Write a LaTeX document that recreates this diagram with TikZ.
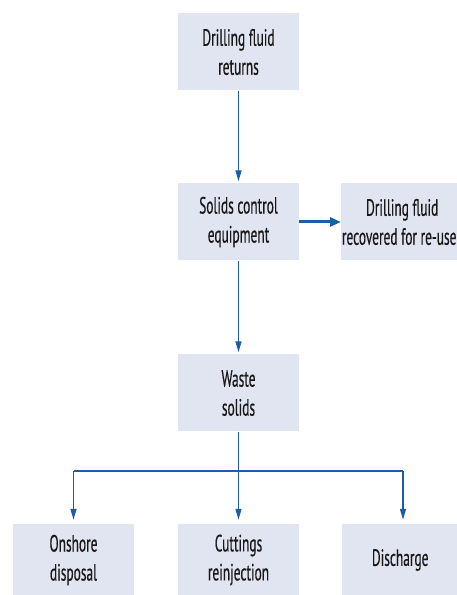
\documentclass[tikz,border=0pt]{standalone}
\usepackage{fontspec}
\setmainfont{PT Sans}[FakeStretch=0.57, FakeBold=0.4]
\usetikzlibrary{arrows.meta}
\definecolor{boxfill}{HTML}{E1E4F1}
\definecolor{lineblue}{HTML}{1D5CA6}
\definecolor{txt}{HTML}{1A1718}
\tikzset{
  stepbox/.style={fill=boxfill, draw=none, minimum width=121pt, minimum height=77pt,
    inner sep=0pt, align=center, text=txt, font=\fontsize{23.5pt}{29pt}\selectfont},
  flow/.style={draw=lineblue, line width=1.4pt, -{Triangle[width=6pt,length=11pt]}},
}
\begin{document}
\begin{tikzpicture}[x=1pt,y=1pt]
\useasboundingbox (0,0) rectangle (457,595);
\clip (0,0) rectangle (457,595);
\node[stepbox] (ret) at (238.5,543) {Drilling fluid\\returns};
\node[stepbox] (sce) at (238.5,373) {Solids control\\equipment};
\node[stepbox, minimum width=116pt, anchor=west] (rec) at (341,373) {\hspace*{6pt}Drilling fluid\\recovered for re-use};
\node[stepbox] (ws) at (238.5,202) {Waste\\solids};
\node[stepbox, minimum height=72pt] (on) at (73.5,35) {Onshore\\disposal};
\node[stepbox, minimum height=72pt] (cr) at (238.5,35) {Cuttings\\reinjection};
\node[stepbox, minimum height=72pt, minimum width=116pt, anchor=west] (dis) at (342,35) {Discharge};
\coordinate (bc) at (238.5,124);
\coordinate (bl) at (73.5,124);
\coordinate (br) at (403,124);
\draw[flow] (ret.south) -- ([yshift=2pt]sce.north);
\draw[flow, line width=3pt, -{Triangle[width=9pt,length=11pt]}] (sce.east) -- (rec.west);
\draw[flow] (sce.south) -- ([yshift=2pt]ws.north);
\draw[draw=lineblue, line width=2.4pt] (bl) -- (br);
\draw[draw=lineblue, line width=1.4pt] (ws.south) -- (bc);
\draw[flow] (bl) -- ([yshift=4pt]on.north);
\draw[flow] (bc) -- ([yshift=4pt]cr.north);
\draw[flow] (br) -- ([yshift=4pt]dis.north-|br);
\end{tikzpicture}
\end{document}
